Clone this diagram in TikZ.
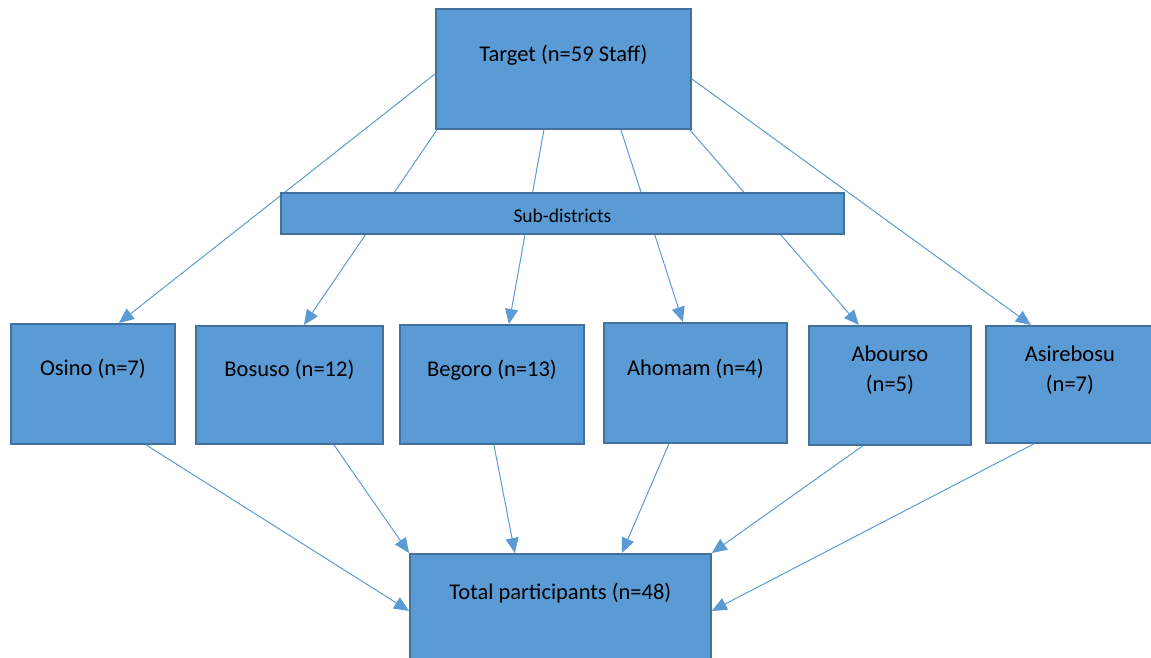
\documentclass[tikz,border=0pt]{standalone}
\usepackage{fontspec}
\setmainfont{Carlito}
\usetikzlibrary{arrows.meta}
\definecolor{boxfill}{HTML}{5B9BD5}
\definecolor{boxline}{HTML}{41719C}
\definecolor{conn}{HTML}{5B9BD5}
\tikzset{
  box/.style={draw=boxline, fill=boxfill, line width=1.8pt, inner sep=0pt, anchor=north west},
  lbl/.style={font=\fontsize{22.5}{30}\selectfont, text=black, align=center, inner sep=0pt},
  sublbl/.style={font=\fontsize{19.5}{24}\selectfont, text=black, inner sep=0pt},
  conn/.style={draw=conn, line width=1pt, -{Triangle[length=15pt,width=13pt]}}
}
\begin{document}
\begin{tikzpicture}[x=1pt,y=-1pt]
\useasboundingbox (0,0) rectangle (1151,658);
% boxes
\node[box, minimum width=255, minimum height=120] (target) at (435,8) {};
\node[box, minimum width=164, minimum height=120] (osino) at (10,323) {};
\node[box, minimum width=187, minimum height=118] (bosuso) at (195,325) {};
\node[box, minimum width=184, minimum height=119] (begoro) at (399,324) {};
\node[box, minimum width=183, minimum height=120] (ahomam) at (603,322) {};
\node[box, minimum width=162, minimum height=119] (abourso) at (808,325) {};
\node[box, minimum width=170, minimum height=117] (asirebosu) at (985,325) {};
\node[box, minimum width=301, minimum height=120] (total) at (409,553) {};
% connectors from target (behind sub-districts box)
\draw[conn] ([yshift=-5]target.west) -- ([xshift=26]osino.north);
\draw[conn] ([xshift=2]target.south west) -- ([xshift=14.5]bosuso.north);
\draw[conn] ([xshift=-19.5]target.south) -- ([xshift=17]begoro.north);
\draw[conn] ([xshift=57.5]target.south) -- ([xshift=-12.5]ahomam.north);
\draw[conn] ([xshift=-2]target.south east) -- ([xshift=-31]abourso.north);
\draw[conn] ([yshift=-10]target.east) -- ([xshift=-40]asirebosu.north);
% sub-districts box
\node[box, minimum width=563, minimum height=41] (sub) at (280,192) {};
\node[sublbl] (subT) at ([yshift=-2.5]sub.center) {Sub-districts};
% connectors to total
\draw[conn] ([xshift=53]osino.south) -- ([yshift=3]total.west);
\draw[conn] ([xshift=44.5]bosuso.south) -- (total.north west);
\draw[conn] ([xshift=2]begoro.south) -- ([xshift=-45.5]total.north);
\draw[conn] ([xshift=-26.5]ahomam.south) -- ([xshift=61.5]total.north);
\draw[conn] ([xshift=-27]abourso.south) -- (total.north east);
\draw[conn] ([xshift=-37]asirebosu.south) -- ([yshift=3]total.east);
% labels
\node[lbl] (targetT) at ([yshift=-47]target.north) {Target (n=59 Staff)};
\node[lbl] (osinoT) at ([yshift=-46]osino.north) {Osino (n=7)};
\node[lbl] (bosusoT) at ([yshift=-45]bosuso.north) {Bosuso (n=12)};
\node[lbl] (begoroT) at ([yshift=-46]begoro.north) {Begoro (n=13)};
\node[lbl] (ahomamT) at ([yshift=-47]ahomam.north) {Ahomam (n=4)};
\node[lbl] (aboursoT) at ([yshift=-45]abourso.north) {Abourso\\(n=5)};
\node[lbl] (asirebosuT) at ([xshift=-1,yshift=-45]asirebosu.north) {Asirebosu\\(n=7)};
\node[lbl] (totalT) at ([yshift=-40]total.north) {Total participants (n=48)};
\end{tikzpicture}
\end{document}
